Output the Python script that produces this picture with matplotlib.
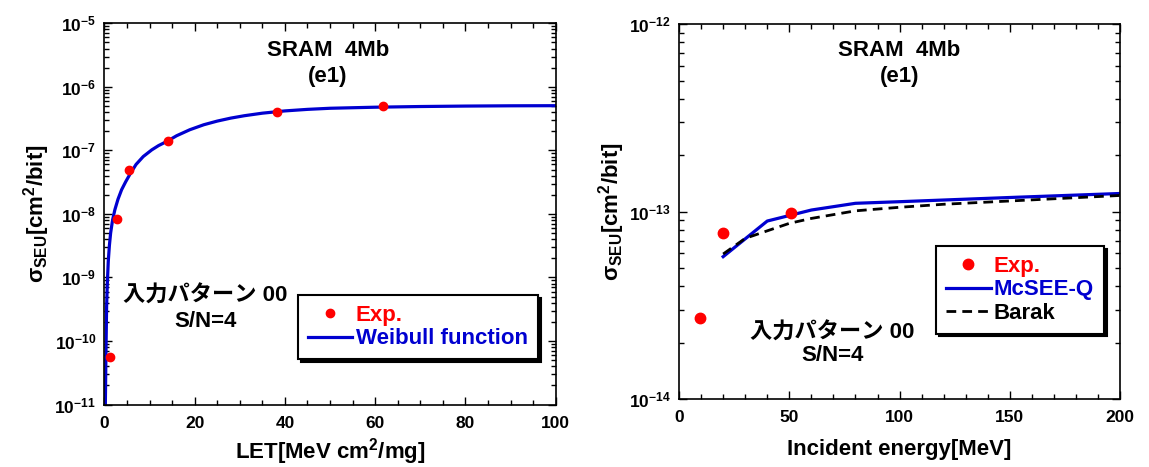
import numpy as np
import matplotlib
matplotlib.use("Agg")
import matplotlib.pyplot as plt
from matplotlib.ticker import MultipleLocator, LogLocator, NullFormatter, FixedLocator

plt.rcParams['font.family'] = ['Liberation Sans', 'Noto Sans CJK JP']
plt.rcParams['font.weight'] = 'bold'
plt.rcParams['mathtext.fontset'] = 'custom'
plt.rcParams['mathtext.rm'] = 'Liberation Sans:bold'
plt.rcParams['mathtext.it'] = 'Liberation Sans:bold'
plt.rcParams['mathtext.bf'] = 'Liberation Sans:bold'
plt.rcParams['mathtext.sf'] = 'Liberation Sans:bold'
plt.rcParams['mathtext.default'] = 'rm'

BLUE = '#0000d0'
RED = '#ff0000'

# --- heavy-ion data (LET) ---
let_exp = [1.3, 2.7, 5.4, 14.0, 38.2, 61.8]
sigma_let_exp = [5.6e-11, 8.3e-9, 5.0e-8, 1.40e-7, 4.05e-7, 4.91e-7]

let_fit = [0.2, 0.33, 0.48, 0.62, 0.85, 1.1, 1.37, 1.8, 2.32, 3.0, 3.8, 4.7,
           5.64, 7.0, 8.6, 10.5, 12.0, 13.8, 16.0, 18.9, 22, 25, 28, 31, 35,
           40, 45, 50, 60, 70, 80, 90, 100]
sigma_fit = [1.0e-11, 6.0e-11, 3.5e-10, 7.5e-10, 1.8e-9, 3.2e-9, 5.0e-9, 8.0e-9,
             1.17e-8, 1.7e-8, 2.4e-8, 3.2e-8, 4.2e-8, 6.0e-8, 8.0e-8, 1.02e-7,
             1.19e-7, 1.38e-7, 1.70e-7, 2.11e-7, 2.53e-7, 2.89e-7, 3.22e-7,
             3.51e-7, 3.85e-7, 4.18e-7, 4.42e-7, 4.6e-7, 4.78e-7, 4.9e-7,
             4.98e-7, 5.03e-7, 5.05e-7]

# --- proton data (incident energy) ---
energy_exp = [9.5, 20, 50.7]
sigma_e_exp = [2.71e-14, 7.72e-14, 9.87e-14]

energy_mcsee = [20, 40, 60, 80, 100, 150, 200]
sigma_mcsee = [5.75e-14, 8.91e-14, 1.02e-13, 1.108e-13, 1.13e-13, 1.19e-13, 1.25e-13]

energy_barak = [20, 30, 40, 50, 60, 80, 100, 120, 150, 200]
sigma_barak = [5.94e-14, 7.2e-14, 7.9e-14, 8.66e-14, 9.2e-14, 1.01e-13, 1.055e-13,
               1.095e-13, 1.14e-13, 1.22e-13]

ylabel = r'$\sigma_{\rm SEU}$[cm$^{\rm 2}$/bit]'

fig = plt.figure(figsize=(11.49, 4.67), dpi=100)
ax1 = fig.add_axes([0.0909, 0.1338, 0.3927, 0.8163])
ax2 = fig.add_axes([0.5910, 0.1456, 0.3838, 0.8024])


def style_axes(ax, exps):
    ax.set_yscale('log')
    ax.tick_params(which='both', direction='in', top=True, right=True,
                   labelsize=12.5, width=1.0)
    ax.tick_params(which='major', length=6)
    ax.tick_params(which='minor', length=3.5)
    ax.tick_params(axis='x', which='major', pad=8)
    ax.tick_params(axis='y', which='major', pad=6)
    for sp in ax.spines.values():
        sp.set_linewidth(1.2)
    ax.yaxis.set_major_locator(FixedLocator([10.0 ** e for e in exps]))
    ax.set_yticklabels([r'$10^{%d}$' % e for e in exps])
    ax.yaxis.set_minor_locator(LogLocator(base=10, subs=np.arange(2, 10)))
    ax.yaxis.set_minor_formatter(NullFormatter())
    for lab in ax.get_xticklabels() + ax.get_yticklabels():
        lab.set_fontweight('bold')


def shadow_legend(ax, handles, labels, colors, anchor):
    leg = ax.legend(handles, labels, loc='upper left', bbox_to_anchor=anchor,
                    fontsize=16, frameon=True, fancybox=False,
                    shadow={'color': 'black', 'alpha': 1.0},
                    handlelength=2.0, handletextpad=0.15, labelspacing=0.1,
                    borderpad=0.45, borderaxespad=0)
    leg.get_frame().set_edgecolor('black')
    leg.get_frame().set_linewidth(1.5)
    for txt, c in zip(leg.get_texts(), colors):
        txt.set_color(c)
        txt.set_fontweight('bold')
    return leg


# left panel: cross section vs LET
l_exp, = ax1.plot(let_exp, sigma_let_exp, 'o', color=RED, markersize=6, zorder=3)
l_fit, = ax1.plot(let_fit, sigma_fit, '-', color=BLUE, linewidth=2.3)
ax1.set_xlim(0, 100)
ax1.set_ylim(1e-11, 1e-5)
style_axes(ax1, range(-11, -4))
ax1.xaxis.set_major_locator(MultipleLocator(20))
ax1.xaxis.set_minor_locator(MultipleLocator(5))
ax1.set_xlabel(r'LET[MeV cm$^{\rm 2}$/mg]', fontsize=16, fontweight='bold')
ax1.xaxis.set_label_coords(0.5, -0.083)
ax1.set_ylabel(ylabel, fontsize=16, fontweight='bold', labelpad=2)
ax1.text(0.495, 0.928, 'SRAM  4Mb', transform=ax1.transAxes, ha='center', va='center',
         fontsize=16, fontweight='bold')
ax1.text(0.495, 0.86, '(e1)', transform=ax1.transAxes, ha='center', va='center',
         fontsize=16, fontweight='bold')
ax1.text(0.224, 0.283, '入力パターン 00', transform=ax1.transAxes, ha='center',
         va='center', fontsize=16, fontweight='bold')
ax1.text(0.224, 0.218, 'S/N=4', transform=ax1.transAxes, ha='center', va='center',
         fontsize=16, fontweight='bold')
shadow_legend(ax1, [l_exp, l_fit], ['Exp.', 'Weibull function'], [RED, BLUE],
              (0.429, 0.287))

# right panel: cross section vs proton energy
r_exp, = ax2.plot(energy_exp, sigma_e_exp, 'o', color=RED, markersize=7.5, zorder=3)
r_mc, = ax2.plot(energy_mcsee, sigma_mcsee, '-', color=BLUE, linewidth=2.3)
r_bk, = ax2.plot(energy_barak, sigma_barak, '--', color='black', linewidth=2.0,
                 dashes=(3.5, 2.2))
ax2.set_xlim(0, 200)
ax2.set_ylim(1e-14, 1e-12)
style_axes(ax2, range(-14, -11))
ax2.xaxis.set_major_locator(MultipleLocator(50))
ax2.xaxis.set_minor_locator(MultipleLocator(10))
ax2.set_xlabel('Incident energy[MeV]', fontsize=16, fontweight='bold')
ax2.xaxis.set_label_coords(0.5, -0.108)
ax2.set_ylabel(ylabel, fontsize=16, fontweight='bold', labelpad=1)
ax2.text(0.50, 0.931, 'SRAM  4Mb', transform=ax2.transAxes, ha='center', va='center',
         fontsize=16, fontweight='bold')
ax2.text(0.50, 0.86, '(e1)', transform=ax2.transAxes, ha='center', va='center',
         fontsize=16, fontweight='bold')
ax2.text(0.347, 0.176, '入力パターン 00', transform=ax2.transAxes, ha='center',
         va='center', fontsize=16, fontweight='bold')
ax2.text(0.347, 0.115, 'S/N=4', transform=ax2.transAxes, ha='center', va='center',
         fontsize=16, fontweight='bold')
shadow_legend(ax2, [r_exp, r_mc, r_bk], ['Exp.', 'McSEE-Q', 'Barak'],
              [RED, BLUE, 'black'], (0.583, 0.408))

fig.savefig('out.png', dpi=100)
